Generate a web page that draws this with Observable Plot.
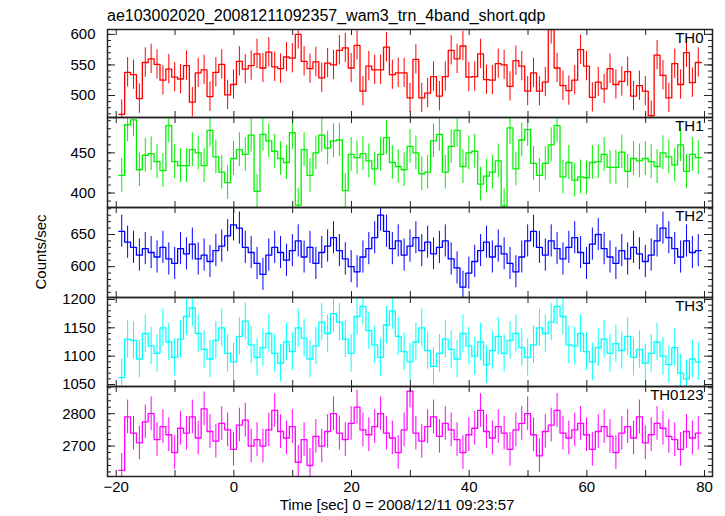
<!DOCTYPE html>
<html><head><meta charset="utf-8">
<script src="https://cdn.jsdelivr.net/npm/d3@7"></script>
<script src="https://cdn.jsdelivr.net/npm/@observablehq/plot@0.6"></script>
<style>
body{margin:0;background:#fff;}
#chart{position:relative;width:725px;height:516px;overflow:hidden;background:#fff;font-family:"Liberation Sans",Arial,Helvetica,sans-serif;color:#000;}
#chart svg{position:absolute;left:0;top:0;}
.lbl{position:absolute;white-space:nowrap;line-height:1;}
</style></head>
<body>
<div id="chart">
  <div class="lbl" id="title" style="left:107px;top:7.5px;font-size:16px;"></div>
  <div class="lbl" id="xlabel" style="left:197px;width:400px;text-align:center;top:497px;font-size:15px;"></div>
  <div class="lbl" id="ylabel" style="left:40px;top:252px;font-size:15px;transform:translate(-50%,-50%) rotate(-90deg);"></div>
</div>
<script>
const titleText = "ae103002020_20081211092357_wam3_trn_4band_short.qdp";
const xLabelText = "Time [sec] 0 = 2008/12/11 09:23:57";
const yLabelText = "Counts/sec";

const bandNames = ["TH0", "TH1", "TH2", "TH3", "TH0123"];
const bandColors = ["#ff0000", "#00f000", "#0000ff", "#00ffff", "#ff00ff"];

// time binning (sec)
const firstBinCenter = -19.06;
const binWidth = 1;

const th0 = [469,538,534,495,554,560,551,525,543,530,527,549,489,537,542,498,538,551,501,518,556,543,549,568,545,571,547,544,563,561,600,556,544,
  555,529,553,550,574,578,545,582,507,548,542,542,579,534,537,537,496,559,496,504,531,499,531,574,560,581,530,531,568,526,525,552,550,
  515,557,548,507,537,507,522,608,545,516,508,525,575,548,497,522,511,544,518,523,539,499,516,507,467,566,533,496,552,518,570,521,554];
const th1 = [422,485,491,429,447,449,439,428,484,439,434,434,454,450,434,478,445,426,413,443,454,448,472,402,473,465,452,443,438,475,385,454,
  422,450,472,456,465,466,403,448,444,449,440,430,448,469,438,433,429,458,450,424,426,465,473,426,458,478,433,450,452,411,421,426,440,384,
  481,430,466,479,437,422,437,460,484,420,438,416,420,419,438,439,448,432,432,451,427,443,440,443,439,433,450,445,435,460,427,448,444];
const th2 = [655,638,630,618,628,622,615,630,612,605,628,620,635,612,618,608,625,632,648,665,660,630,622,605,588,618,630,622,610,625,640,615,630,
  605,622,632,645,625,612,600,592,615,628,645,680,655,628,640,618,632,645,625,638,620,630,640,612,598,568,590,608,625,638,615,632,620,
  605,592,615,640,655,630,618,640,628,612,630,645,622,605,635,650,628,615,605,625,612,630,620,608,618,640,660,645,628,615,640,622,625];
const th3 = [1062,1130,1128,1095,1140,1118,1105,1150,1125,1098,1130,1170,1185,1140,1112,1095,1128,1150,1105,1090,1135,1162,1120,1098,1115,1140,1105,1088,1125,1108,1150,1132,1095,
  1118,1160,1140,1175,1160,1130,1105,1170,1188,1145,1120,1098,1155,1180,1135,1108,1090,1125,1150,1110,1082,1105,1130,1112,1095,1140,1118,1100,1125,1085,1110,1135,1105,
  1128,1140,1115,1098,1120,1150,1140,1160,1188,1170,1120,1118,1140,1108,1090,1115,1130,1105,1122,1110,1135,1098,1112,1088,1105,1125,1100,1085,1115,1070,1060,1095,1090];
const th0123 = [2625,2790,2740,2710,2775,2800,2720,2760,2735,2680,2755,2740,2790,2725,2815,2745,2715,2770,2750,2690,2765,2780,2700,2720,2700,2750,2810,2745,2725,2760,2650,2720,2640,
  2730,2700,2745,2800,2740,2720,2770,2820,2750,2735,2760,2800,2740,2725,2680,2750,2870,2740,2715,2760,2790,2730,2770,2750,2720,2680,2735,2755,2810,2745,2725,2760,2740,
  2690,2750,2770,2800,2735,2670,2745,2765,2810,2740,2725,2750,2770,2735,2690,2745,2760,2730,2680,2740,2760,2725,2790,2710,2735,2770,2755,2730,2720,2690,2745,2725,2740];

// typical 1-sigma error half-length per band (counts/sec)
const bandErrors = [24, 21, 25, 33, 52];

const yDomains = [[464, 608], [382, 494], [552, 692], [1046.5, 1203.5], [2606, 2884]];
const yMajorTicks = [[500, 550, 600], [400, 450], [600, 650], [1050, 1100, 1150, 1200], [2700, 2800]];
const yMinorStep = [10, 10, 10, 10, 20];
const xDomain = [-21.48, 81.36];
const xLabelTicks = [-20, 0, 20, 40, 60, 80];
const xMinorTicks = [-20, -10, 0, 10, 20, 30, 40, 50, 60, 70, 80];

const series = [th0, th1, th2, th3, th0123];

document.getElementById("title").textContent = titleText;
document.getElementById("xlabel").textContent = xLabelText;
document.getElementById("ylabel").textContent = yLabelText;

const W = 725, H = 516;
const frameLeft = 107, frameRight = 712;
const panelEdges = [29, 117, 207, 297, 386, 476];
const plotW = frameRight - frameLeft;
const chart = document.getElementById("chart");

series.forEach((vals, i) => {
  const last = i === series.length - 1;
  const top = panelEdges[i], bottom = panelEdges[i + 1];
  const plotH = bottom - top;
  const err = bandErrors[i];
  const color = bandColors[i];
  const rows = vals.map((v, k) => ({t: firstBinCenter + k * binWidth, v}));
  const stepPts = rows.flatMap(d => [{t: d.t - binWidth / 2, v: d.v}, {t: d.t + binWidth / 2, v: d.v}]);
  const [y0, y1] = yDomains[i];
  const minor = d3.range(Math.ceil(y0 / yMinorStep[i]) * yMinorStep[i], y1, yMinorStep[i]);
  const major = yMajorTicks[i];
  const tickStroke = "#222";
  const svg = Plot.plot({
    width: W, height: H,
    marginLeft: frameLeft, marginRight: W - frameRight,
    marginTop: top, marginBottom: H - bottom,
    style: {background: "transparent", fontSize: "15px", fontFamily: "'Liberation Sans', Arial, sans-serif", color: "#000", overflow: "visible"},
    x: {domain: xDomain, axis: last ? "bottom" : null, ticks: xLabelTicks, tickSize: 0, tickPadding: 5, label: null},
    y: {domain: yDomains[i], ticks: major, tickSize: 0, tickPadding: 12, label: null, tickFormat: d => String(d)},
    marks: [
      Plot.ruleX(rows, {x: "t", y1: d => d.v - err, y2: d => d.v + err, stroke: color, strokeWidth: 1, clip: true}),
      Plot.line(stepPts, {x: "t", y: "v", stroke: color, strokeWidth: 1.3, clip: true}),
      Plot.tickY(minor, {y: d => d, stroke: tickStroke, insetRight: plotW - 4}),
      Plot.tickY(minor, {y: d => d, stroke: tickStroke, insetLeft: plotW - 4}),
      Plot.tickY(major, {y: d => d, stroke: tickStroke, insetRight: plotW - 8}),
      Plot.tickY(major, {y: d => d, stroke: tickStroke, insetLeft: plotW - 8}),
      Plot.tickX(xMinorTicks, {x: d => d, stroke: tickStroke, insetBottom: plotH - 6}),
      Plot.tickX(xMinorTicks, {x: d => d, stroke: tickStroke, insetTop: plotH - 6}),
      Plot.frame({stroke: "#222", strokeWidth: 1.5}),
      Plot.text([bandNames[i]], {text: d => d, frameAnchor: "top-right", lineAnchor: "top", textAnchor: "end", dx: -9, dy: 3, fontSize: 15, fill: "#000"})
    ]
  });
  chart.appendChild(svg);
});
</script>
</body></html>
